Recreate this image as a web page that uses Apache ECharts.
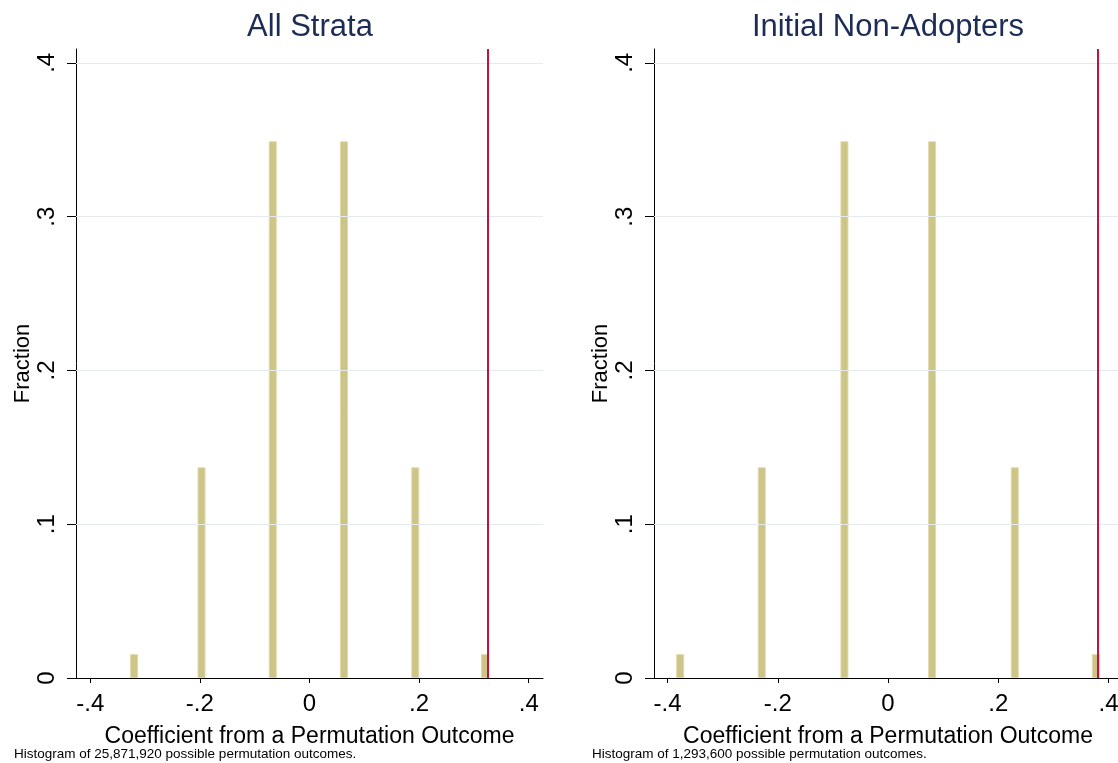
<!DOCTYPE html>
<html>
<head>
<meta charset="utf-8">
<title>Permutation histograms</title>
<script src="https://cdn.jsdelivr.net/npm/echarts@6/dist/echarts.min.js"></script>
<style>
    html, body {margin: 0; padding: 0; background: #fff; overflow: hidden;}
    #chart_container {width: 1126px; height: 763px;}
</style>
</head>
<body>
<div id="chart_container"></div>
<script>
"use strict";

// 数据
var panelTitles = ['All Strata', 'Initial Non-Adopters'];
var panelNotes = ['Histogram of 25,871,920 possible permutation outcomes.',
    'Histogram of 1,293,600 possible permutation outcomes.'];
var leftBins = [-0.320, -0.197, -0.067, 0.063, 0.193, 0.320];
var leftFractions = [0.0155, 0.137, 0.349, 0.349, 0.137, 0.0155];
var rightBins = [-0.377, -0.229, -0.079, 0.080, 0.230, 0.377];
var rightFractions = [0.0155, 0.137, 0.349, 0.349, 0.137, 0.0155];
var observedCoef = [0.3245, 0.381];
var xTicks = [-0.4, -0.2, 0, 0.2, 0.4];
var yTicks = [0, 0.1, 0.2, 0.3, 0.4];
var gridValues = [0.1, 0.2, 0.3, 0.4];
var xRange = [[-0.426, 0.426], [-0.4245, 0.4245]];
var yMax = 0.409;
var xName = 'Coefficient from a Permutation Outcome';
var yName = 'Fraction';

var FONT = '"Liberation Sans", Arial, Helvetica, sans-serif';

function tickText(v) {
    if (v === 0) return '0';
    return String(v).replace('0.', '.');
}

function pairs(xs, ys) {
    var out = [];
    for (var i = 0, n = xs.length; i < n; i++) {
        out.push([xs[i], ys[i]]);
    }
    return out;
}

function makeXAxis(idx) {
    return {
        type: 'value',
        gridIndex: idx,
        min: xRange[idx][0],
        max: xRange[idx][1],
        name: xName,
        nameLocation: 'middle',
        nameGap: 47,
        nameTextStyle: {color: '#000', fontSize: 23, fontFamily: FONT},
        axisLine: {show: true, onZero: false, lineStyle: {color: '#000', width: 1}},
        axisTick: {show: true, length: 5, customValues: xTicks, lineStyle: {color: '#000'}},
        axisLabel: {customValues: xTicks, formatter: tickText, margin: 14,
            color: '#000', fontSize: 24, fontFamily: FONT},
        splitLine: {show: false}
    };
}

function makeYAxis(idx) {
    return {
        type: 'value',
        gridIndex: idx,
        min: 0,
        max: yMax,
        name: yName,
        nameLocation: 'middle',
        nameGap: 42,
        nameRotate: 90,
        nameTextStyle: {color: '#000', fontSize: 22, fontFamily: FONT},
        axisLine: {show: true, onZero: false, lineStyle: {color: '#000', width: 1}},
        axisTick: {show: true, length: 9, customValues: yTicks, lineStyle: {color: '#000'}},
        axisLabel: {customValues: yTicks, formatter: tickText, rotate: 90, margin: 17,
            color: '#000', fontSize: 24, fontFamily: FONT},
        splitLine: {show: false}
    };
}

function guideSeries(idx) {
    // 网格线放在柱子下面
    return {
        type: 'line',
        xAxisIndex: idx,
        yAxisIndex: idx,
        data: [],
        z: 1,
        silent: true,
        markLine: {
            silent: true,
            precision: 4,
            symbol: 'none',
            label: {show: false},
            lineStyle: {color: '#e4ebef', width: 1.2, type: 'solid'},
            data: gridValues.map(function (v) { return {yAxis: v}; })
        }
    };
}

function observedSeries(idx) {
    return {
        type: 'line',
        xAxisIndex: idx,
        yAxisIndex: idx,
        data: [],
        z: 3,
        silent: true,
        markLine: {
            silent: true,
            precision: 4,
            symbol: 'none',
            label: {show: false},
            lineStyle: {color: '#c8103e', width: 2, type: 'solid'},
            data: [{xAxis: observedCoef[idx]}]
        }
    };
}

function barSeries(idx, xs, ys) {
    return {
        type: 'bar',
        xAxisIndex: idx,
        yAxisIndex: idx,
        data: pairs(xs, ys),
        barWidth: 8,
        z: 2,
        itemStyle: {color: '#cdc588', borderColor: '#dfd9aa', borderWidth: 1}
    };
}

var myChart = echarts.init(document.getElementById('chart_container'), null, {renderer: 'canvas'});

var option = {
    animation: false,
    backgroundColor: '#fff',
    grid: [
        {left: 76, top: 49, width: 467, bottom: 85},
        {left: 654, top: 49, width: 468, bottom: 85}
    ],
    xAxis: [makeXAxis(0), makeXAxis(1)],
    yAxis: [makeYAxis(0), makeYAxis(1)],
    series: [
        guideSeries(0),
        guideSeries(1),
        barSeries(0, leftBins, leftFractions),
        barSeries(1, rightBins, rightFractions),
        observedSeries(0),
        observedSeries(1)
    ],
    graphic: [
        {type: 'text', style: {text: panelTitles[0], x: 310, y: 27, textAlign: 'center',
            textVerticalAlign: 'middle', fill: '#1c2c55', font: '31px ' + FONT}},
        {type: 'text', style: {text: panelTitles[1], x: 888, y: 27, textAlign: 'center',
            textVerticalAlign: 'middle', fill: '#1c2c55', font: '31px ' + FONT}},
        {type: 'text', style: {text: panelNotes[0], x: 14, y: 754, textAlign: 'left',
            textVerticalAlign: 'middle', fill: '#000', font: '13.5px ' + FONT}},
        {type: 'text', style: {text: panelNotes[1], x: 592, y: 754, textAlign: 'left',
            textVerticalAlign: 'middle', fill: '#000', font: '13.5px ' + FONT}}
    ]
};

myChart.setOption(option);
</script>
</body>
</html>
